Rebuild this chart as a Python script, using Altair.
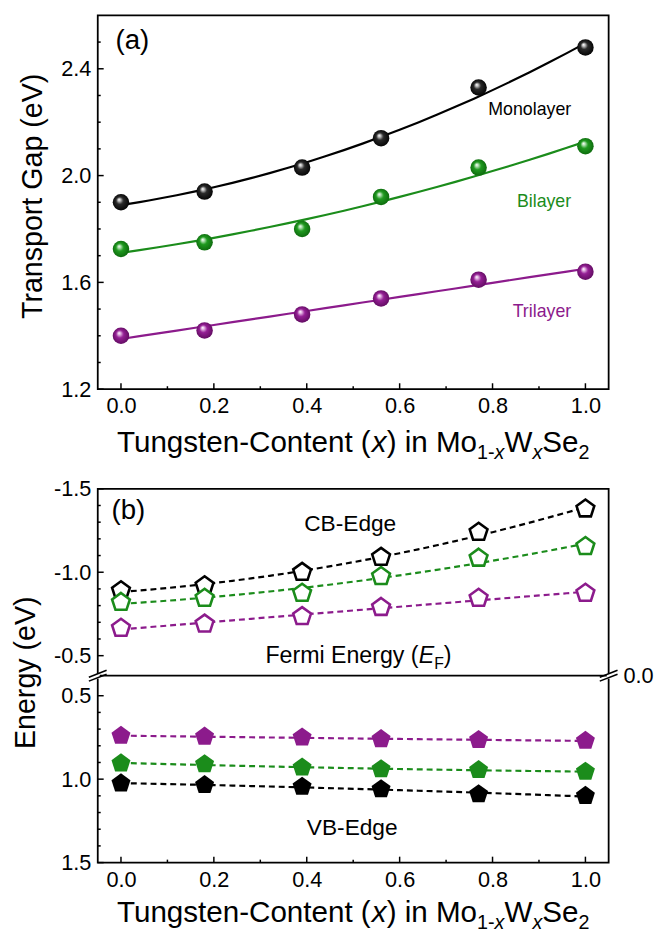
import altair as alt
import pandas as pd

FONT = "Liberation Sans, Arial, Helvetica, sans-serif"

# ---------------- data ----------------
X_CONTENT = [0.0, 0.18, 0.39, 0.56, 0.77, 1.0]
LAYERS = ["Monolayer", "Bilayer", "Trilayer"]
COLORS = ["#000000", "#1b8c1b", "#8c1b8c"]

GAP_MONO = [1.90, 1.94, 2.03, 2.14, 2.33, 2.48]
GAP_BI = [1.725, 1.75, 1.80, 1.92, 2.03, 2.11]
GAP_TRI = [1.40, 1.42, 1.48, 1.54, 1.61, 1.64]

CB_MONO = [-0.89, -0.92, -1.00, -1.09, -1.24, -1.38]
CB_BI = [-0.82, -0.845, -0.875, -0.975, -1.085, -1.155]
CB_TRI = [-0.665, -0.69, -0.735, -0.79, -0.845, -0.875]

VB_MONO = [1.025, 1.035, 1.045, 1.06, 1.09, 1.10]
VB_BI = [0.905, 0.91, 0.93, 0.94, 0.945, 0.955]
VB_TRI = [0.74, 0.745, 0.75, 0.76, 0.765, 0.77]

X_MAJOR = [0.0, 0.2, 0.4, 0.6, 0.8, 1.0]
X_MINOR = [0.1, 0.3, 0.5, 0.7, 0.9]
A_Y_MAJOR = [1.2, 1.6, 2.0, 2.4]
A_Y_MINOR = [1.3, 1.4, 1.5, 1.7, 1.8, 1.9, 2.1, 2.2, 2.3, 2.5]
B_Y_MAJOR = [-1.5, -1.0, -0.5, 0.5, 1.0, 1.5]
B_Y_MINOR = [-1.4, -1.3, -1.2, -1.1, -0.9, -0.8, -0.7, -0.6,
             0.6, 0.7, 0.8, 0.9, 1.1, 1.2, 1.3, 1.4]
B_BREAK = [-0.38, 0.38]

# ---------------- tables ----------------
df_a = pd.DataFrame({
    "x": X_CONTENT * 3,
    "gap": GAP_MONO + GAP_BI + GAP_TRI,
    "series": [s for s in LAYERS for _ in X_CONTENT],
})
df_b = pd.DataFrame({
    "x": X_CONTENT * 6,
    "value": CB_MONO + CB_BI + CB_TRI + VB_MONO + VB_BI + VB_TRI,
    "series": [s for s in LAYERS for _ in X_CONTENT] * 2,
    "band": ["CB"] * 18 + ["VB"] * 18,
})
ONE = pd.DataFrame({"k": [0]})

W = 518
H = 379

XS = alt.Scale(domain=[-0.05, 1.05], nice=False, zero=False)
AYS = alt.Scale(domain=[1.2, 2.6], nice=False, zero=False)
BYS = alt.Scale(domain=[-1.5, B_BREAK[0], B_BREAK[1], 1.5],
                range=[0, H / 2, H / 2, H], nice=False, zero=False)
CS = alt.Scale(domain=LAYERS, range=COLORS)

PENT = "M0,-1L0.951,-0.309L0.588,0.809L-0.588,0.809L-0.951,-0.309Z"

AW = {"T": 611, "u": 556, "n": 556, "g": 556, "s": 500, "t": 278, "e": 556,
      "-": 333, "C": 722, "o": 556, " ": 278, "(": 333, ")": 333, "x": 500,
      "i": 222, "M": 833, "1": 556, "W": 944, "S": 667, "2": 556, "F": 611,
      "r": 333, "m": 833, "E": 667, "y": 500}


def tw(s, size):
    return sum(AW[c] for c in s) * size / 1000.0


def composed(segments, x0, y0):
    out = []
    x = x0
    for text, size, italic, dy in segments:
        out.append(
            alt.Chart(ONE).mark_text(
                text=text, font=FONT, fontSize=size,
                fontStyle="italic" if italic else "normal",
                align="left", baseline="alphabetic", color="black",
            ).encode(x=alt.value(x), y=alt.value(y0 + dy))
        )
        x += tw(text, size)
    return out


def x_title_layers(base):
    M, S, D = 30, 20, 7
    segs = [("Tungsten-Content (", M, False, 0), ("x", M, True, 0),
            (") in Mo", M, False, 0), ("1-", S, False, D), ("x", S, True, D),
            ("W", M, False, 0), ("x", S, True, D), ("Se", M, False, 0),
            ("2", S, False, D)]
    total = sum(tw(t, s) for t, s, _, _ in segs)
    return composed(segs, W / 2 - total / 2, base)


def text(t, x, y, size, color="black", align="left"):
    return alt.Chart(ONE).mark_text(
        text=t, font=FONT, fontSize=size, color=color, align=align,
        baseline="alphabetic").encode(x=alt.value(x), y=alt.value(y))


def xticks(values, length):
    return alt.Chart(pd.DataFrame({"v": values})).mark_rule(
        color="black", strokeWidth=1.5).encode(
        x=alt.X("v:Q", scale=XS),
        y=alt.value(H), y2=alt.value(H - length))


def yticks(values, length, scale):
    return alt.Chart(pd.DataFrame({"v": values})).mark_rule(
        color="black", strokeWidth=1.5).encode(
        y=alt.Y("v:Q", scale=scale),
        x=alt.value(0), x2=alt.value(length))


def gradient(stops):
    return alt.RadialGradient(
        gradient="radial",
        stops=[alt.GradientStop(offset=o, color=c) for o, c in stops],
        x1=0.38, y1=0.33, r1=0.0, x2=0.5, y2=0.5, r2=0.55)


SPHERE = {
    "Monolayer": [(0.0, "#ffffff"), (0.14, "#c8c8c8"), (0.4, "#2a2a2a"), (1.0, "#000000")],
    "Bilayer": [(0.0, "#ffffff"), (0.14, "#bfe6bf"), (0.42, "#1f9a1f"), (1.0, "#0c650c")],
    "Trilayer": [(0.0, "#ffffff"), (0.14, "#e8c0e8"), (0.42, "#951f95"), (1.0, "#5c0a5c")],
}


def x_axis():
    return alt.Axis(values=X_MAJOR, format=".1f", title=None, labelPadding=7)


# ---------------- panel (a) ----------------
a_lines = alt.Chart(df_a).transform_regression(
    "x", "gap", groupby=["series"], method="poly", order=2, extent=[0, 1]
).mark_line(strokeWidth=2.2).encode(
    x=alt.X("x:Q", scale=XS, axis=x_axis()),
    y=alt.Y("gap:Q", scale=AYS,
            axis=alt.Axis(values=A_Y_MAJOR, format=".1f",
                          title="Transport Gap (eV)", titlePadding=13,
                          titleY=183, labelPadding=7)),
    color=alt.Color("series:N", scale=CS, legend=None),
)

a_spheres = [
    alt.Chart(df_a).transform_filter(alt.datum.series == s).mark_circle(
        size=280, opacity=1, fill=gradient(SPHERE[s])
    ).encode(x=alt.X("x:Q", scale=XS),
             y=alt.Y("gap:Q", scale=AYS))
    for s in LAYERS
]

panel_a = alt.layer(
    a_lines,
    xticks(X_MAJOR, 6), xticks(X_MINOR, 3),
    yticks(A_Y_MAJOR, 6, AYS), yticks(A_Y_MINOR, 3, AYS),
    *a_spheres,
    text("(a)", 18, 34, 28),
    text("Monolayer", 480, 101, 18, COLORS[0], "right"),
    text("Bilayer", 480, 194, 18, COLORS[1], "right"),
    text("Trilayer", 480, 306, 18, COLORS[2], "right"),
    *x_title_layers(H + 64),
).properties(width=W, height=H)

# ---------------- panel (b) ----------------
b_lines = alt.Chart(df_b).transform_regression(
    "x", "value", groupby=["series", "band"], method="poly", order=2,
    extent=[0, 1]
).mark_line(strokeWidth=2.2, strokeDash=[6, 4]).encode(
    x=alt.X("x:Q", scale=XS, axis=x_axis()),
    y=alt.Y("value:Q", scale=BYS,
            axis=alt.Axis(values=B_Y_MAJOR, format=".1f",
                          labelExpr="replace(datum.label, '\u2212', '-')",
                          title="Energy (eV)", titlePadding=13,
                          titleY=186, labelPadding=7)),
    color=alt.Color("series:N", scale=CS, legend=None),
    detail="band:N",
)

b_cb = alt.Chart(df_b).transform_filter(alt.datum.band == "CB").mark_point(
    shape=PENT, size=360, filled=True, fill="white", strokeWidth=2.6, opacity=1
).encode(
    x=alt.X("x:Q", scale=XS),
    y=alt.Y("value:Q", scale=BYS),
    stroke=alt.Stroke("series:N", scale=CS, legend=None),
)

b_vb = alt.Chart(df_b).transform_filter(alt.datum.band == "VB").mark_point(
    shape=PENT, size=410, filled=True, opacity=1, strokeWidth=0
).encode(
    x=alt.X("x:Q", scale=XS),
    y=alt.Y("value:Q", scale=BYS),
    color=alt.Color("series:N", scale=CS, legend=None),
)

MID = H / 2
break_rule = alt.Chart(ONE).mark_rule(color="black", strokeWidth=1.8).encode(
    x=alt.value(0), x2=alt.value(W), y=alt.value(MID))


def break_marks(xe):
    gap = alt.Chart(ONE).mark_rule(color="white", strokeWidth=4).encode(
        x=alt.value(xe), y=alt.value(MID - 2), y2=alt.value(MID + 3))
    l1 = alt.Chart(ONE).mark_rule(color="black", strokeWidth=1.6).encode(
        x=alt.value(xe - 9), x2=alt.value(xe + 9),
        y=alt.value(MID + 1.5), y2=alt.value(MID - 5.5))
    l2 = alt.Chart(ONE).mark_rule(color="black", strokeWidth=1.6).encode(
        x=alt.value(xe - 9), x2=alt.value(xe + 9),
        y=alt.value(MID + 5.5), y2=alt.value(MID - 1.5))
    return [gap, l1, l2]


fermi = composed([("Fermi Energy (", 23.5, False, 0), ("E", 23.5, True, 0),
                  ("F", 16, False, 6), (")", 23.5, False, 0)], 170, 177)

zero_lbl = alt.Chart(ONE).mark_text(
    text="0.0", font=FONT, fontSize=22, align="left", baseline="middle",
    color="black").encode(x=alt.value(W + 15), y=alt.value(MID))

panel_b = alt.layer(
    b_lines,
    xticks(X_MAJOR, 6), xticks(X_MINOR, 3),
    yticks(B_Y_MAJOR, 6, BYS), yticks(B_Y_MINOR, 3, BYS),
    break_rule,
    b_cb, b_vb,
    *break_marks(0), *break_marks(W),
    zero_lbl,
    text("(b)", 14, 31, 28),
    text("CB-Edge", 256, 43, 23, "black", "center"),
    *fermi,
    text("VB-Edge", 258, 351, 23, "black", "center"),
    *x_title_layers(H + 60),
).properties(width=W, height=H)

chart = alt.vconcat(panel_a, panel_b, spacing=101, bounds="flush").properties(
    padding={"left": 3, "top": 0, "right": 0, "bottom": 0}
).configure_view(
    stroke="black", strokeWidth=1.8
).configure_axis(
    labelFont=FONT, labelFontSize=22, labelColor="black",
    titleFont=FONT, titleFontSize=29, titleColor="black",
    titleFontWeight="normal", ticks=False, tickSize=0, domain=False,
    grid=False, labelFlush=False, labelOverlap=False,
)

chart.save("out.html", embed_options={"renderer": "svg", "actions": False})
